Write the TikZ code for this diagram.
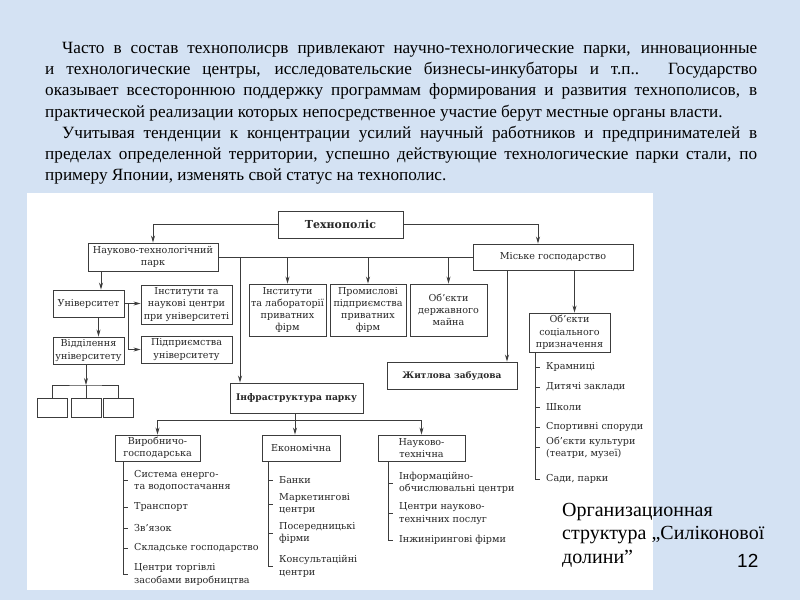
\documentclass[tikz,border=0pt]{standalone}
\usepackage{fontspec}
\usetikzlibrary{arrows.meta}
\setmainfont{Liberation Serif}
\newfontfamily\diagfont{DejaVu Serif}
\newfontfamily\pagefont{Liberation Sans}

\definecolor{bgblue}{RGB}{212,226,243}
\definecolor{linegray}{RGB}{60,60,60}
\definecolor{inkgray}{RGB}{40,40,40}

\tikzset{
    box/.style={draw=linegray, fill=white, line width=0.9pt, inner sep=1pt, align=center,
        text=inkgray, font=\diagfont\fontsize{9.6}{12.3}\selectfont},
    boldbox/.style={box, font=\diagfont\bfseries\fontsize{9}{12}\selectfont},
    item/.style={anchor=west, inner sep=0pt, align=left,
        text=inkgray, font=\diagfont\fontsize{9.6}{12.3}\selectfont},
    conn/.style={draw=linegray, line width=0.8pt},
}

\begin{document}
\begin{tikzpicture}[x=1pt, y=-1pt, >={Stealth[length=7pt, width=4pt]}]
    \useasboundingbox (0,0) rectangle (800,600);
    \fill[bgblue] (0,0) rectangle (800,600);
    \fill[white] (27,193) rectangle (653,590);

    % текст над схемою
    \node[anchor=north west, inner sep=0pt, text width=712pt, align=justify,
          font=\fontsize{17.2}{21.2}\selectfont] (txt) at (45,42) {%
        \hspace*{17pt}Часто в состав технополисрв привлекают научно-технологические парки, инновационные\linebreak
        и технологические центры, исследовательские бизнесы-инкубаторы и т.п.. Государство\linebreak
        оказывает всестороннюю поддержку программам формирования и развития технополисов, в\linebreak
        практической реализации которых непосредственное участие берут местные органы власти.\par
        \hspace*{17pt}Учитывая тенденции к концентрации усилий научный работников и предпринимателей в\linebreak
        пределах определенной территории, успешно действующие технологические парки стали, по\linebreak
        примеру Японии, изменять свой статус на технополис.\par};

    % блоки
    \node[boldbox, minimum width=125pt, minimum height=27pt, font=\diagfont\bfseries\fontsize{11}{12}\selectfont] (tp) at (340.5,224.5) {Технополіс};
    \node[box, minimum width=130pt, minimum height=28pt] (park) at (153,257) {Науково-технологічний\\парк};
    \node[box, minimum width=160pt, minimum height=26pt] (city) at (553,257) {Міське господарство};

    \node[box, minimum width=71pt, minimum height=27pt] (uni) at (88.5,303.5) {Університет};
    \node[box, minimum width=91pt, minimum height=39pt] (inst) at (186.5,304.5) {Інститути та\\наукові центри\\при університеті};
    \node[box, minimum width=91pt, minimum height=27pt] (ent) at (186.5,349.5) {Підприємства\\університету};
    \node[box, minimum width=71pt, minimum height=27pt] (dep) at (88.5,350.5) {Відділення\\університету};
    \node[box, minimum width=30pt, minimum height=19pt] (sb1) at (52,407.5) {};
    \node[box, minimum width=30pt, minimum height=19pt] (sb2) at (86,407.5) {};
    \node[box, minimum width=30pt, minimum height=19pt] (sb3) at (118,407.5) {};

    \node[box, minimum width=77pt, minimum height=52pt] (lab) at (287.5,310) {Інститути\\та лабораторії\\приватних\\фірм};
    \node[box, minimum width=76pt, minimum height=52pt] (ind) at (368,310) {Промислові\\підприємства\\приватних\\фірм};
    \node[box, minimum width=77pt, minimum height=52pt] (state) at (448.5,310) {Об’єкти\\державного\\майна};

    \node[boldbox, minimum width=130pt, minimum height=27pt] (house) at (452,375.5) {Житлова забудова};
    \node[box, minimum width=81pt, minimum height=39pt] (soc) at (569.5,332.5) {Об’єкти\\соціального\\призначення};

    \node[boldbox, minimum width=133pt, minimum height=30pt, font=\diagfont\bfseries\fontsize{9.2}{12}\selectfont] (infra) at (296.5,398) {Інфраструктура парку};
    \node[box, minimum width=85pt, minimum height=26pt] (prod) at (157.5,448) {Виробничо-\\господарська};
    \node[box, minimum width=78pt, minimum height=26pt] (econ) at (301,448) {Економічна};
    \node[box, minimum width=87pt, minimum height=26pt] (sci) at (421.5,448) {Науково-\\технічна};

    % переліки
    \node[item] (p1) at (134,480.5) {Система енерго-\\та водопостачання};
    \node[item] (p2) at (134,507) {Транспорт};
    \node[item] (p3) at (134,528) {Зв’язок};
    \node[item] (p4) at (134,548) {Складське господарство};
    \node[item] (p5) at (134,574.5) {Центри торгівлі\\засобами виробництва};

    \node[item] (e1) at (279,480) {Банки};
    \node[item] (e2) at (279,504) {Маркетингові\\центри};
    \node[item] (e3) at (279,533) {Посередницькі\\фірми};
    \node[item] (e4) at (279,566.5) {Консультаційні\\центри};

    \node[item] (s1) at (399,483) {Інформаційно-\\обчислювальні центри};
    \node[item] (s2) at (399,513.5) {Центри науково-\\технічних послуг};
    \node[item] (s3) at (399,540) {Інжинірингові фірми};

    \node[item] (k1) at (546,367) {Крамниці};
    \node[item] (k2) at (546,387) {Дитячі заклади};
    \node[item] (k3) at (546,407) {Школи};
    \node[item] (k4) at (546,427) {Спортивні споруди};
    \node[item] (k5) at (546,447.5) {Об’єкти культури\\(театри, музеї)};
    \node[item] (k6) at (546,479) {Сади, парки};

    % підпис
    \node[anchor=north west, inner sep=0pt, align=left, font=\fontsize{20}{23.5}\selectfont] (cap) at (562,503)
        {Организационная\\структура „Силіконової\\долини”};
    \node[anchor=base west, inner sep=0pt, font=\pagefont\fontsize{19}{23}\selectfont] (pg) at (737,567) {12};

    % зв'язки
    \coordinate (j1) at (240,257);
    \coordinate (hx) at (507,0);
    \coordinate (sj) at (86,385);
    \coordinate (ij) at (295,420);

    \draw[conn, ->] (tp.west) -| (park.north);
    \draw[conn, ->] (tp.east) -| ([xshift=-15pt]city.north);
    \draw[conn] (park.east) -- (city.west);
    \draw[conn, ->] (j1) -- (j1 |- infra.north);
    \draw[conn, ->] (lab.north |- park.east) -- (lab.north);
    \draw[conn, ->] (ind.north |- park.east) -- (ind.north);
    \draw[conn, ->] (state.north |- park.east) -- (state.north);
    \draw[conn, ->] (city.south -| hx) -- (house.north -| hx);
    \draw[conn, ->] ([xshift=5pt]city.south -| soc.north) -- ([xshift=5pt]soc.north);

    \draw[conn, ->] ([xshift=-52pt]park.south) -- ([xshift=-52pt]park.south |- uni.north);
    \draw[conn, ->] (uni.east) -- (inst.west |- uni.east);
    \draw[conn, ->] ([xshift=4pt]uni.east) |- (ent.west);
    \draw[conn, ->] ([xshift=10pt]uni.south) -- ([xshift=10pt]dep.north);
    \draw[conn, ->] (dep.south -| sj) -- (sj);
    \draw[conn] (sb1.north) |- (sj) -| (sb3.north);
    \draw[conn] (sj) -- (sb2.north);

    \draw[conn] (infra.south -| ij) -- (ij);
    \draw[conn, ->] (ij) -| (prod.north);
    \draw[conn, ->] (ij) -| (sci.north);
    \draw[conn, ->] (ij) -- (ij |- econ.north);

    % гілки переліків
    \draw[conn] ([xshift=-11pt]p1.west |- prod.south) |- ([xshift=-6pt]p5.west);
    \draw[conn] ([xshift=-11pt]p1.west) -- ++(5,0);
    \draw[conn] ([xshift=-11pt]p2.west) -- ++(5,0);
    \draw[conn] ([xshift=-11pt]p3.west) -- ++(5,0);
    \draw[conn] ([xshift=-11pt]p4.west) -- ++(5,0);

    \draw[conn] ([xshift=-11pt]e1.west |- econ.south) |- ([xshift=-6pt]e4.west);
    \draw[conn] ([xshift=-11pt]e1.west) -- ++(5,0);
    \draw[conn] ([xshift=-11pt]e2.west) -- ++(5,0);
    \draw[conn] ([xshift=-11pt]e3.west) -- ++(5,0);

    \draw[conn] ([xshift=-11pt]s1.west |- sci.south) |- ([xshift=-6pt]s3.west);
    \draw[conn] ([xshift=-11pt]s1.west) -- ++(5,0);
    \draw[conn] ([xshift=-11pt]s2.west) -- ++(5,0);

    \draw[conn] ([xshift=-11pt]k1.west |- soc.south) |- ([xshift=-6pt]k6.west);
    \draw[conn] ([xshift=-11pt]k1.west) -- ++(5,0);
    \draw[conn] ([xshift=-11pt]k2.west) -- ++(5,0);
    \draw[conn] ([xshift=-11pt]k3.west) -- ++(5,0);
    \draw[conn] ([xshift=-11pt]k4.west) -- ++(5,0);
    \draw[conn] ([xshift=-11pt]k5.west) -- ++(5,0);
\end{tikzpicture}
\end{document}
